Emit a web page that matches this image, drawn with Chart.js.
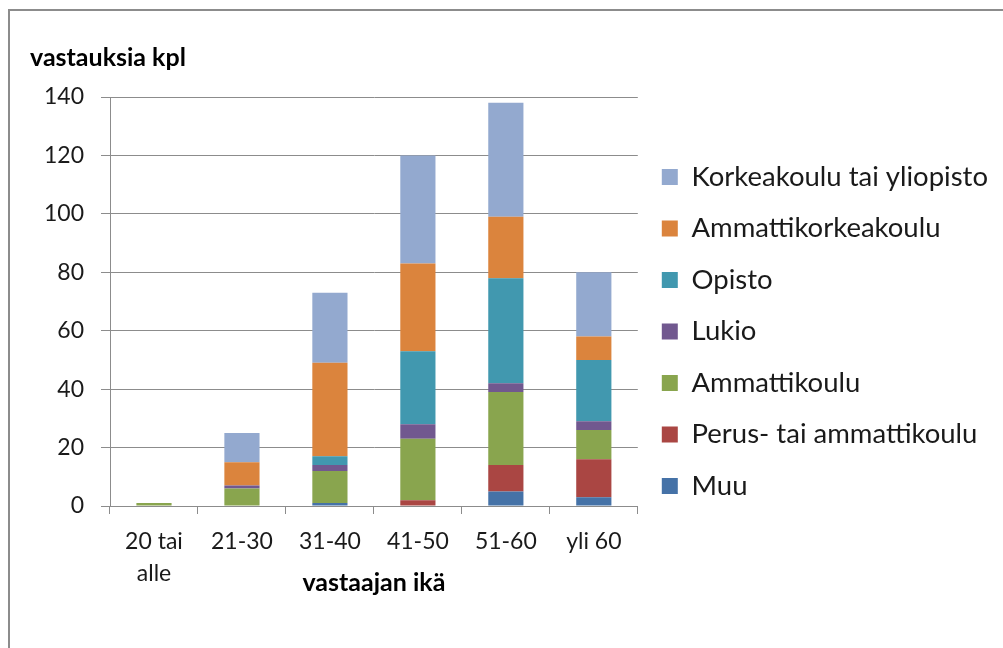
<!DOCTYPE html>
<html>
<head>
<meta charset="utf-8">
<script src="https://cdn.jsdelivr.net/npm/chart.js@4/dist/chart.umd.min.js"></script>
<style>
  body { margin: 0; background: #fff; overflow: hidden; }
  #frame { position: absolute; left: 8px; top: 9px; width: 1100px; height: 700px;
           border-top: 2px solid #8c8c8c; border-left: 2px solid #8c8c8c; }
  #myChart { position: absolute; left: 0; top: 0; }
</style>
</head>
<body>
<div id="frame"></div>
<canvas id="myChart" width="1003" height="648"></canvas>
<script>
// categories and tick labels
const ageGroups = [["20 tai", "alle"], "21-30", "31-40", "41-50", "51-60", "yli 60"];
const yTicks = [0, 20, 40, 60, 80, 100, 120, 140];

// series values (stacked bottom to top)
const muu = [0, 0, 1, 0, 5, 3];
const perus = [0, 0, 0, 2, 9, 13];
const ammattikoulu = [1, 6, 11, 21, 25, 10];
const lukio = [0, 1, 2, 5, 3, 3];
const opisto = [0, 0, 3, 25, 36, 21];
const amk = [0, 8, 32, 30, 21, 8];
const korkeakoulu = [0, 10, 24, 37, 39, 22];

const fontFamily = "Lato, Carlito, Calibri, sans-serif";
const gridColor = "#8c8c8c";
const textColor = "#1a1a1a";

function start(){
    const ctx = document.getElementById('myChart').getContext('2d');

    const series = [
        { label: "Muu", data: muu, color: "#4572A7" },
        { label: "Perus- tai ammattikoulu", data: perus, color: "#AA4643" },
        { label: "Ammattikoulu", data: ammattikoulu, color: "#89A54E" },
        { label: "Lukio", data: lukio, color: "#71588F" },
        { label: "Opisto", data: opisto, color: "#4198AF" },
        { label: "Ammattikorkeakoulu", data: amk, color: "#DB843D" },
        { label: "Korkeakoulu tai yliopisto", data: korkeakoulu, color: "#93A9CF" }
    ];

    new Chart(ctx, {
        type: 'bar',
        data: {
            labels: ageGroups,
            datasets: series.map(s => ({
                label: s.label,
                data: s.data,
                backgroundColor: s.color,
                borderWidth: 0,
                barPercentage: 0.4,
                categoryPercentage: 1
            }))
        },
        options: {
            responsive: false,
            animation: false,
            devicePixelRatio: 1,
            layout: {
                padding: { left: 30, top: 15, right: 5, bottom: 0 }
            },
            plugins: {
                tooltip: { enabled: false },
                title: {
                    display: true,
                    text: "vastauksia kpl",
                    align: 'start',
                    color: "#000",
                    font: { family: fontFamily, size: 25, weight: 'bold', lineHeight: 1.2 },
                    padding: { top: 27.5, bottom: 24.5 }
                },
                legend: {
                    position: 'right',
                    reverse: true,
                    maxWidth: 420,
                    labels: {
                        boxWidth: 16,
                        boxHeight: 16,
                        padding: 24,
                        color: textColor,
                        font: { family: fontFamily, size: 27.5 }
                    }
                }
            },
            scales: {
                x: {
                    stacked: true,
                    grid: {
                        display: true,
                        drawOnChartArea: false,
                        drawTicks: true,
                        tickLength: 8,
                        color: gridColor
                    },
                    border: { display: true, color: gridColor, width: 1 },
                    ticks: {
                        color: textColor,
                        padding: 11,
                        maxRotation: 0,
                        font: { family: fontFamily, size: 23, lineHeight: 1.4 }
                    },
                    title: {
                        display: true,
                        text: "vastaajan ikä",
                        color: "#000",
                        font: { family: fontFamily, size: 25, weight: 'bold', lineHeight: 1.2 },
                        padding: { top: 0, bottom: 50 }
                    },
                    afterFit: (scale) => { scale.height = 142; }
                },
                y: {
                    stacked: true,
                    min: yTicks[0],
                    max: yTicks[yTicks.length - 1],
                    afterBuildTicks: (scale) => { scale.ticks = yTicks.map(v => ({ value: v })); },
                    grid: {
                        color: gridColor,
                        lineWidth: 1,
                        drawTicks: true,
                        tickLength: 9
                    },
                    border: { display: true, color: gridColor, width: 1 },
                    ticks: {
                        color: textColor,
                        padding: 17,
                        font: { family: fontFamily, size: 23 }
                    },
                    afterFit: (scale) => { scale.width = 80; }
                }
            }
        }
    });
}

window.addEventListener("load", start, false);
</script>
</body>
</html>
